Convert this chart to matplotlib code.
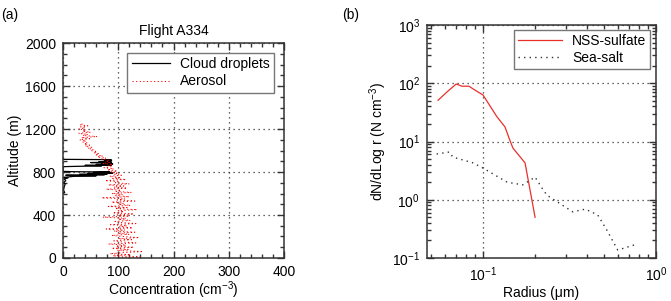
import matplotlib.pyplot as plt
from matplotlib.ticker import MultipleLocator, LogLocator, NullFormatter

plt.rcParams['font.family'] = ['Liberation Sans', 'DejaVu Sans']
plt.rcParams['mathtext.fontset'] = 'custom'
plt.rcParams['mathtext.rm'] = 'Liberation Sans'
plt.rcParams['mathtext.it'] = 'Liberation Sans:italic'

FS = 10

# (a) Flight A334 profiles: concentration (cm^-3) vs altitude (m)
cloud_alt = [600, 610, 630, 660, 690, 700, 720, 735, 745, 750, 760, 765, 770, 775,
             778, 782, 786, 790, 795, 800, 803, 806, 810, 850, 858, 862, 866, 870,
             875, 880, 884, 888, 892, 896, 900, 905, 910, 915, 918, 920]
cloud_conc = [0, 3, 1, 2, 4, 1, 5, 2, 9, 1, 20, 60, 5, 75,
              30, 80, 45, 90, 55, 85, 20, 0, 0, 0, 70, 40, 88, 60,
              90, 70, 85, 50, 88, 65, 85, 75, 88, 85, 0, 0]

aer_alt = [0, 10, 20, 30, 40, 50, 60, 70, 80, 90, 100,
           110, 120, 130, 140, 150, 160, 170, 180, 190, 200,
           210, 220, 230, 240, 250, 260, 270, 280, 290, 300,
           310, 320, 330, 340, 350, 360, 370, 380, 390, 400,
           410, 420, 430, 440, 450, 460, 470, 480, 490, 500,
           510, 520, 530, 540, 550, 560, 570, 580, 590, 600,
           610, 620, 630, 640, 650, 660, 670, 680, 690, 700,
           710, 720, 730, 740, 750, 760, 770, 780, 790, 800,
           810, 820, 830, 840, 850, 860, 870, 880, 890, 900,
           910, 920, 930, 940, 950, 960, 970, 980, 990, 1000,
           1010, 1020, 1030, 1040, 1050, 1060, 1070, 1080, 1090, 1100,
           1110, 1120, 1130, 1140, 1150, 1160, 1170, 1180, 1190, 1200,
           1210, 1220, 1230, 1240, 1250]
aer_conc = [100, 140, 90, 122, 85, 110, 145, 98, 118, 88, 128,
            96, 114, 82, 132, 105, 92, 124, 100, 138, 108,
            88, 120, 100, 130, 92, 112, 78, 126, 102, 116,
            86, 132, 105, 94, 122, 100, 114, 72, 120, 98,
            128, 90, 110, 100, 134, 94, 116, 82, 122, 100,
            110, 88, 130, 98, 112, 70, 120, 95, 108, 88,
            124, 96, 105, 78, 116, 92, 110, 82, 120, 95,
            100, 76, 114, 90, 102, 84, 106, 92, 100, 86,
            98, 80, 92, 74, 88, 82, 90, 72, 85, 78,
            82, 70, 78, 62, 72, 58, 66, 55, 62, 50,
            55, 45, 52, 40, 48, 38, 45, 35, 42, 30,
            48, 33, 62, 36, 45, 28, 50, 35, 42, 28,
            40, 32, 45, 30, 38]

# (b) size distributions: radius (um) vs dN/dLog r (N cm^-3)
nss_r = [0.055, 0.062, 0.070, 0.0757, 0.083, 0.090, 0.100, 0.120, 0.134, 0.143,
         0.149, 0.175, 0.200]
nss_n = [51, 71, 97, 89, 89, 76, 63, 27, 17.8, 10.5, 7.7, 4.3, 0.5]

salt_r = [0.054, 0.064, 0.067, 0.0875, 0.100, 0.138, 0.170, 0.200, 0.219, 0.234,
          0.330, 0.390, 0.460, 0.520, 0.600, 0.640, 0.780]
salt_n = [6.1, 6.6, 5.4, 4.3, 3.5, 2.0, 1.8, 2.45, 1.6, 1.2,
          0.62, 0.69, 0.55, 0.30, 0.138, 0.145, 0.174]

fig = plt.figure(figsize=(6.71, 3.01), dpi=100)
ax1 = fig.add_axes([0.0939, 0.1429, 0.3294, 0.714])
ax2 = fig.add_axes([0.6364, 0.1429, 0.3413, 0.774])

grid_kw = dict(color='#333333', linestyle=(0, (1, 3)), linewidth=0.9)

# left panel
ax1.plot(cloud_conc, cloud_alt, color='black', linewidth=0.9, label='Cloud droplets')
ax1.plot(aer_conc, aer_alt, color='red', linestyle=(0, (1.2, 2.5)), linewidth=0.7,
         label='Aerosol')
ax1.set_xlim(0, 400)
ax1.set_ylim(0, 2000)
ax1.xaxis.set_major_locator(MultipleLocator(100))
ax1.xaxis.set_minor_locator(MultipleLocator(20))
ax1.yaxis.set_major_locator(MultipleLocator(400))
ax1.yaxis.set_minor_locator(MultipleLocator(100))
ax1.grid(True, which='major', **grid_kw)
ax1.set_title('Flight A334', fontsize=FS, pad=6)
ax1.set_xlabel('Concentration (cm$^{-3}$)', fontsize=FS, labelpad=0)
ax1.set_ylabel('Altitude (m)', fontsize=FS, labelpad=2)
ax1.legend(loc='upper right', bbox_to_anchor=(0.955, 0.955), fontsize=FS,
           handlelength=2.8, fancybox=False, edgecolor='#777777', framealpha=1,
           borderpad=0.3, labelspacing=0.25, handletextpad=0.7, borderaxespad=0)

# right panel
ax2.plot(nss_r, nss_n, color='#e8302a', linewidth=0.9, label='NSS-sulfate')
ax2.plot(salt_r, salt_n, color='#333333', linestyle=(0, (1, 3)), linewidth=1.0,
         label='Sea-salt')
ax2.set_xscale('log')
ax2.set_yscale('log')
ax2.set_xlim(0.0475, 1.0)
ax2.set_ylim(0.1, 1000)
ax2.xaxis.set_major_locator(LogLocator(base=10))
ax2.xaxis.set_minor_locator(LogLocator(base=10, subs=range(2, 10)))
ax2.xaxis.set_minor_formatter(NullFormatter())
ax2.yaxis.set_major_locator(LogLocator(base=10))
ax2.yaxis.set_minor_locator(LogLocator(base=10, subs=range(2, 10)))
ax2.yaxis.set_minor_formatter(NullFormatter())
ax2.grid(True, which='major', **grid_kw)
ax2.set_xlabel('Radius (\u03bcm)', fontsize=FS, labelpad=2)
ax2.set_ylabel('dN/dLog r (N cm$^{-3}$)', fontsize=FS, labelpad=2)
ax2.legend(loc='upper right', bbox_to_anchor=(0.975, 0.98), fontsize=FS,
           handlelength=3.2, fancybox=False, edgecolor='#777777', framealpha=1,
           borderpad=0.3, labelspacing=0.25, handletextpad=0.7, borderaxespad=0)

for ax in (ax1, ax2):
    ax.tick_params(which='both', direction='in', top=True, right=True,
                   labelsize=FS, width=1.0, color='#333333')
    ax.tick_params(which='major', length=5, pad=5)
    ax.tick_params(which='minor', length=3)
    for sp in ax.spines.values():
        sp.set_linewidth(1.1)
        sp.set_color('#333333')

fig.text(0.002, 0.975, '(a)', fontsize=FS, va='top')
fig.text(0.51, 0.975, '(b)', fontsize=FS, va='top')

fig.savefig('out.png', dpi=100)
